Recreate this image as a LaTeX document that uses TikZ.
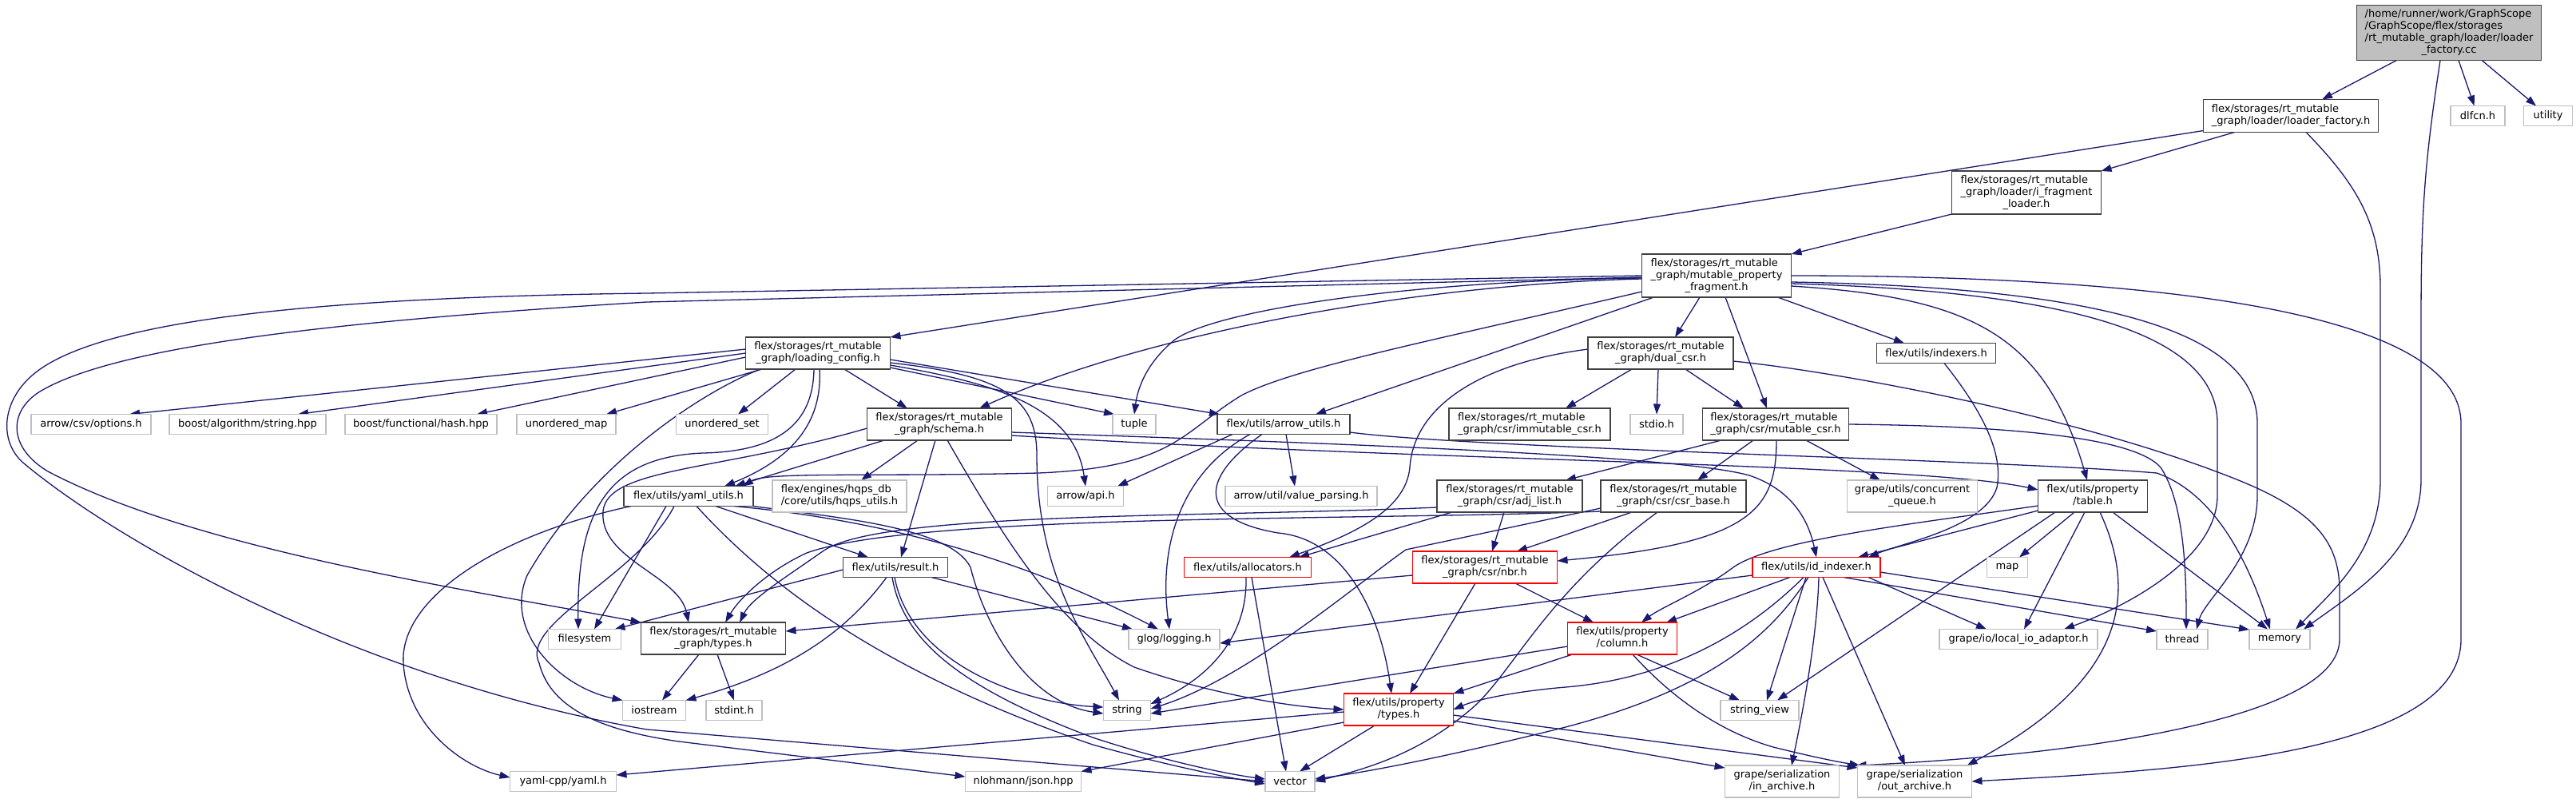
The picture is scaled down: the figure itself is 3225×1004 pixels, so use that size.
\documentclass[tikz,border=0pt]{standalone}
\usepackage{fontspec}
\setmainfont{DejaVu Sans}
\usetikzlibrary{arrows.meta}
\definecolor{edgec}{HTML}{191970}
\definecolor{lgray}{HTML}{BFBFBF}
\definecolor{dgray}{HTML}{404040}
\newcommand\fsz{\fontsize{13}{15}\selectfont}
\newcommand\mlab[2]{\begin{tabular}{@{}l@{}}#1\\\multicolumn{1}{@{}c@{}}{#2}\end{tabular}}
\newcommand\N[7]{\node[#1,minimum width=#5pt,minimum height=#6pt] (#2) at (#3,#4) {#7};}
\pgfdeclarelayer{bglayer}
\pgfdeclarelayer{edgelayer}
\pgfsetlayers{bglayer,edgelayer,main}
\tikzset{
  box/.style={rectangle,inner sep=0pt,outer sep=0pt,font=\fsz,text=black,line width=1.6pt},
  doc/.style={box,draw=dgray,fill=white},
  sys/.style={box,draw=lgray,fill=white},
  trunc/.style={box,draw=red,fill=white},
  rootbox/.style={box,draw=dgray,fill=lgray},
  dep/.style={draw=edgec,line width=1.3pt,-{Triangle[length=13pt,width=9pt]}},
}
\begin{document}
\begin{tikzpicture}[x=1pt,y=-1pt]
\begin{pgfonlayer}{bglayer}
\fill[white] (0,0) rectangle (3225,1004);
\end{pgfonlayer}
\useasboundingbox (0,0) rectangle (3225,1004);
% nodes
\N{rootbox}{root}{3066}{41}{231}{69}{\mlab{/home/runner/work/GraphScope\\/GraphScope/flex/storages\\/rt\_mutable\_graph/loader/loader}{\_factory.cc}}
\N{doc}{lfh}{2868}{145}{219}{41}{\mlab{flex/storages/rt\_mutable}{\_graph/loader/loader\_factory.h}}
\N{sys}{dlfcn}{3102}{145}{68}{25}{dlfcn.h}
\N{sys}{utility}{3190}{145}{61}{25}{utility}
\N{doc}{ifl}{2537}{241}{187}{54}{\mlab{flex/storages/rt\_mutable\\\_graph/loader/i\_fragment}{\_loader.h}}
\N{doc}{mpf}{2149}{345}{187}{54}{\mlab{flex/storages/rt\_mutable\\\_graph/mutable\_property}{\_fragment.h}}
\N{doc}{lc}{1024}{442}{181}{40}{\mlab{flex/storages/rt\_mutable}{\_graph/loading\_config.h}}
\N{doc}{dual}{2079}{442}{182}{40}{\mlab{flex/storages/rt\_mutable}{\_graph/dual\_csr.h}}
\N{doc}{indexers}{2424}{442}{149}{25}{flex/utils/indexers.h}
\N{sys}{csvopt}{114}{531}{150}{25}{arrow/csv/options.h}
\N{sys}{balg}{310}{531}{196}{25}{boost/algorithm/string.hpp}
\N{sys}{bhash}{527}{531}{190}{25}{boost/functional/hash.hpp}
\N{sys}{umap}{709}{531}{124}{25}{unordered\_map}
\N{sys}{uset}{904}{531}{115}{25}{unordered\_set}
\N{doc}{schema}{1176}{531}{181}{40}{\mlab{flex/storages/rt\_mutable}{\_graph/schema.h}}
\N{sys}{tuple}{1420}{531}{54}{25}{tuple}
\N{doc}{arrowutils}{1607}{531}{166}{25}{flex/utils/arrow\_utils.h}
\N{doc}{immcsr}{1915}{531}{202}{40}{\mlab{flex/storages/rt\_mutable}{\_graph/csr/immutable\_csr.h}}
\N{sys}{stdio}{2074}{531}{66}{25}{stdio.h}
\N{doc}{mutcsr}{2223}{531}{183}{40}{\mlab{flex/storages/rt\_mutable}{\_graph/csr/mutable\_csr.h}}
\N{doc}{yaml}{862}{621}{162}{25}{flex/utils/yaml\_utils.h}
\N{sys}{hqps}{1051}{621}{168}{40}{\mlab{flex/engines/hqps\_db}{/core/utils/hqps\_utils.h}}
\N{sys}{arrowapi}{1359}{621}{95}{25}{arrow/api.h}
\N{sys}{valpars}{1629}{621}{190}{25}{arrow/util/value\_parsing.h}
\N{doc}{adjlist}{1890}{621}{182}{40}{\mlab{flex/storages/rt\_mutable}{\_graph/csr/adj\_list.h}}
\N{doc}{csrbase}{2095}{621}{182}{40}{\mlab{flex/storages/rt\_mutable}{\_graph/csr/csr\_base.h}}
\N{sys}{cqueue}{2394}{621}{163}{40}{\mlab{grape/utils/concurrent}{\_queue.h}}
\N{doc}{table}{2620}{621}{137}{40}{\mlab{flex/utils/property}{/table.h}}
\N{doc}{result}{1121}{710}{131}{25}{flex/utils/result.h}
\N{trunc}{alloc}{1562}{710}{159}{25}{flex/utils/allocators.h}
\N{trunc}{nbr}{1859}{710}{181}{40}{\mlab{flex/storages/rt\_mutable}{\_graph/csr/nbr.h}}
\N{trunc}{idindexer}{2274}{710}{160}{25}{flex/utils/id\_indexer.h}
\N{sys}{map}{2513}{710}{51}{25}{map}
\N{sys}{filesystem}{732}{800}{91}{25}{filesystem}
\N{doc}{rtypes}{893}{799}{181}{40}{\mlab{flex/storages/rt\_mutable}{\_graph/types.h}}
\N{sys}{glog}{1470}{800}{114}{25}{glog/logging.h}
\N{trunc}{column}{2031}{799}{137}{40}{\mlab{flex/utils/property}{/column.h}}
\N{sys}{localio}{2527}{800}{198}{25}{grape/io/local\_io\_adaptor.h}
\N{sys}{thread}{2732}{800}{64}{25}{thread}
\N{sys}{memory}{2854}{800}{76}{25}{memory}
\N{sys}{iostream}{819}{889}{79}{25}{iostream}
\N{sys}{stdint}{919}{889}{70}{25}{stdint.h}
\N{sys}{string}{1411}{889}{59}{25}{string}
\N{trunc}{ptypes}{1751}{888}{137}{40}{\mlab{flex/utils/property}{/types.h}}
\N{sys}{strview}{2203}{889}{98}{25}{string\_view}
\N{sys}{yamlcpp}{705}{978}{133}{25}{yaml-cpp/yaml.h}
\N{sys}{json}{1281}{978}{145}{25}{nlohmann/json.hpp}
\N{sys}{vector}{1615}{978}{62}{25}{vector}
\N{sys}{inarch}{2231}{978}{143}{40}{\mlab{grape/serialization}{/in\_archive.h}}
\N{sys}{outarch}{2397}{978}{143}{40}{\mlab{grape/serialization}{/out\_archive.h}}
\begin{pgfonlayer}{edgelayer}
% root
\draw[dep] (root) -- (lfh);
\draw[dep] (root) -- (dlfcn);
\draw[dep] (root) -- (utility);
\draw[dep] ([xshift=-11pt]root.south) .. controls (3036,200) and (3031,260) .. (3031,400) -- (3031,600) .. controls (3031,690) and (2950,740) .. ([xshift=30pt]memory.north);
% loader_factory.h
\draw[dep] (lfh) -- (ifl);
\draw[dep] ([yshift=2pt]lfh.south west) -- (lc.north east);
\draw[dep] ([xshift=19pt]lfh.south) .. controls (2950,230) and (2980,280) .. (2980,360) -- (2980,600) .. controls (2980,690) and (2920,740) .. ([xshift=20pt]memory.north);
% i_fragment_loader
\draw[dep] (ifl.south west) -- (mpf.north east);
% mutable_property_fragment
\draw[dep] ([yshift=-2pt]mpf.west) -- (810,378) .. controls (450,400) and (150,430) .. (50,490) .. controls (10,515) and (10,560) .. (60,590) .. controls (250,690) and (600,740) .. (rtypes.north west);
\draw[dep] (mpf.west) -- (810,367) .. controls (400,372) and (120,400) .. (40,470) .. controls (0,505) and (0,555) .. (30,580) .. controls (150,680) and (450,850) .. (810,913) -- (vector.west);
\draw[dep] ([yshift=-3pt]mpf.west) .. controls (1750,352) and (1520,390) .. (1471,425) .. controls (1440,450) and (1425,480) .. (tuple.north);
\draw[dep] ([yshift=-4pt]mpf.west) .. controls (1800,355) and (1450,410) .. ([xshift=50pt]schema.north);
\draw[dep] ([yshift=-20pt]mpf.west) .. controls (1800,425) and (1620,460) .. (1554,495) .. controls (1480,540) and (1470,585) .. (1300,592) .. controls (1100,597) and (960,590) .. ([xshift=68pt]yaml.north);
\draw[dep] ([xshift=15pt]mpf.south west) -- ([xshift=40pt]arrowutils.north);
\draw[dep] ([xshift=-21pt]mpf.south) -- ([xshift=18pt]dual.north);
\draw[dep] ([xshift=11pt]mpf.south) -- ([xshift=-11pt]mutcsr.north);
\draw[dep] ([xshift=-17pt]mpf.south east) -- ([xshift=-40pt]indexers.north);
\draw[dep] ([yshift=-13pt]mpf.east) .. controls (2470,372) and (2560,420) .. ([xshift=-7pt]table.north);
\draw[dep] ([yshift=-10pt]mpf.east) .. controls (2600,365) and (2776,420) .. (2776,530) -- (2776,620) .. controls (2776,700) and (2660,760) .. ([xshift=57pt]localio.north);
\draw[dep] ([yshift=-8pt]mpf.east) .. controls (2650,360) and (2826,420) .. (2826,530) -- (2826,620) .. controls (2826,700) and (2760,750) .. ([xshift=18pt]thread.north);
\draw[dep] (mpf.east) .. controls (2700,345) and (3081,390) .. (3081,530) -- (3081,800) .. controls (3081,950) and (2700,965) .. (outarch.east);
% loading_config
\draw[dep] ([yshift=5pt]lc.west) -- ([xshift=48pt]csvopt.north);
\draw[dep] (lc.west) -- ([xshift=63pt]balg.north);
\draw[dep] ([yshift=-5pt]lc.west) -- ([xshift=70pt]bhash.north);
\draw[dep] ([xshift=-70pt]lc.south) -- ([xshift=50pt]umap.north);
\draw[dep] ([xshift=-28pt]lc.south) -- ([xshift=20pt]uset.north);
\draw[dep] ([xshift=-5pt]lc.south) .. controls (1018,530) and (975,565) .. (880,567) .. controls (760,572) and (722,640) .. ([xshift=-8pt]filesystem.north);
\draw[dep] ([xshift=-72pt]lc.south) .. controls (880,490) and (740,580) .. (660,720) .. controls (630,790) and (700,860) .. (iostream.north west);
\draw[dep] ([xshift=2pt]lc.south) .. controls (1030,530) and (990,575) .. ([xshift=45pt]yaml.north);
\draw[dep] ([xshift=33pt]lc.south) -- ([xshift=-40pt]schema.north);
\draw[dep] ([yshift=-12pt]lc.east) .. controls (1260,470) and (1298,500) .. (1298,570) .. controls (1298,720) and (1360,800) .. ([xshift=-10pt]string.north);
\draw[dep] ([yshift=-15pt]lc.east) .. controls (1250,480) and (1345,510) .. (arrowapi.north);
\draw[dep] ([yshift=-18pt]lc.east) -- ([xshift=-25pt]tuple.north);
\draw[dep] ([yshift=-8pt]lc.east) -- ([xshift=-80pt]arrowutils.north);
% schema
\draw[dep] ([yshift=-5pt]schema.west) .. controls (900,590) and (760,585) .. (755,640) .. controls (750,700) and (850,720) .. ([xshift=-31pt]rtypes.north);
\draw[dep] ([xshift=-69pt]schema.south) -- ([xshift=58pt]yaml.north);
\draw[dep] ([xshift=-27pt]schema.south) -- ([xshift=27pt]hqps.north);
\draw[dep] ([xshift=-5pt]schema.south) -- ([xshift=7pt]result.north);
\draw[dep] ([xshift=10pt]schema.south) .. controls (1260,680) and (1330,790) .. (1420,835) .. controls (1520,870) and (1620,885) .. (ptypes.west);
\draw[dep] ([yshift=-10pt]schema.east) .. controls (1700,556) and (2100,570) .. (2190,595) .. controls (2250,615) and (2266,660) .. (idindexer.north);
\draw[dep] ([yshift=-14pt]schema.east) .. controls (1800,578) and (2400,580) .. ([yshift=8pt]table.west);
% arrow_utils
\draw[dep] ([xshift=-64pt]arrowutils.south) -- ([xshift=40pt]arrowapi.north);
\draw[dep] ([xshift=-42pt]arrowutils.south) .. controls (1480,590) and (1450,680) .. ([xshift=-6pt]glog.north);
\draw[dep] ([xshift=-27pt]arrowutils.south) .. controls (1500,600) and (1500,650) .. (1600,667) .. controls (1690,675) and (1730,780) .. ([xshift=-9pt]ptypes.north);
\draw[dep] ([xshift=3pt]arrowutils.south) -- ([xshift=-8pt]valpars.north);
\draw[dep] ([yshift=-10pt]arrowutils.east) .. controls (1850,562) and (2500,575) .. (2700,592) .. controls (2780,620) and (2820,720) .. ([xshift=-12pt]memory.north);
% dual_csr
\draw[dep] ([xshift=-36pt]dual.south) -- ([xshift=45pt]immcsr.north);
\draw[dep] ([xshift=-3pt]dual.south) -- (stdio.north);
\draw[dep] ([xshift=31pt]dual.south) -- ([xshift=-40pt]mutcsr.north);
\draw[dep] ([yshift=5pt]dual.west) .. controls (1850,455) and (1770,510) .. (1765,585) .. controls (1760,640) and (1690,670) .. ([xshift=52pt]alloc.north);
\draw[dep] ([yshift=-10pt]dual.east) .. controls (2300,465) and (2600,520) .. (2800,600) .. controls (2900,640) and (2929,680) .. (2929,740) -- (2929,800) .. controls (2929,900) and (2600,945) .. ([xshift=-2pt]outarch.north west);
% mutable_csr
\draw[dep] ([xshift=-68pt]mutcsr.south) -- ([xshift=70pt]adjlist.north);
\draw[dep] ([xshift=-28pt]mutcsr.south) -- ([xshift=30pt]csrbase.north);
\draw[dep] ([xshift=38pt]mutcsr.south) -- ([xshift=-40pt]cqueue.north);
\draw[dep] ([xshift=1pt]mutcsr.south) .. controls (2224,640) and (2190,680) .. ([yshift=8pt]nbr.east);
\draw[dep] (mutcsr.east) .. controls (2500,533) and (2670,545) .. (2705,585) .. controls (2735,630) and (2737,720) .. ([xshift=5pt]thread.north);
% adj_list
\draw[dep] ([yshift=-14pt]adjlist.west) .. controls (1500,648) and (1100,640) .. (1030,690) .. controls (980,725) and (940,750) .. ([xshift=33pt]rtypes.north);
\draw[dep] ([xshift=-72pt]adjlist.south) -- ([xshift=64pt]alloc.north);
\draw[dep] ([xshift=-7pt]adjlist.south) -- ([xshift=9pt]nbr.north);
% csr_base
\draw[dep] ([yshift=-19pt]csrbase.west) .. controls (1700,652) and (1150,642) .. (1010,692) .. controls (960,715) and (925,750) .. ([xshift=15pt]rtypes.north);
\draw[dep] ([xshift=-52pt]csrbase.south) -- ([xshift=40pt]nbr.north);
\draw[dep] ([xshift=-20pt]csrbase.south) .. controls (1940,740) and (1900,830) .. (1850,880) .. controls (1780,945) and (1700,965) .. (vector.east);
\draw[dep] ([yshift=-15pt]csrbase.west) -- (1760,688) .. controls (1700,730) and (1560,850) .. ([yshift=2pt]string.east);
% nbr
\draw[dep] ([yshift=-10pt]nbr.west) -- ([yshift=9pt]rtypes.east);
\draw[dep] ([xshift=-12pt]nbr.south) -- ([xshift=14pt]ptypes.north);
\draw[dep] ([xshift=38pt]nbr.south) -- ([xshift=-36pt]column.north);
% id_indexer
\draw[dep] ([yshift=-10pt]idindexer.west) -- ([yshift=-5pt]glog.east);
\draw[dep] ([xshift=-33pt]idindexer.south) -- ([xshift=55pt]column.north);
\draw[dep] ([xshift=-16pt]idindexer.south) .. controls (2180,800) and (2080,850) .. (1960,860) .. controls (1900,865) and (1850,875) .. (ptypes.east);
\draw[dep] ([xshift=-10pt]idindexer.south) .. controls (2220,790) and (2150,860) .. (1960,910) .. controls (1820,945) and (1720,965) .. ([yshift=3pt]vector.east);
\draw[dep] ([xshift=-13pt]idindexer.south) -- ([xshift=9pt]strview.north);
\draw[dep] ([xshift=3pt]idindexer.south) .. controls (2275,800) and (2255,900) .. ([xshift=12pt]inarch.north);
\draw[dep] ([xshift=8pt]idindexer.south) -- ([xshift=-12pt]outarch.north);
\draw[dep] ([yshift=-6pt]idindexer.east) -- ([yshift=12pt]memory.west);
\draw[dep] ([xshift=34pt]idindexer.south) -- ([yshift=10pt]thread.west);
\draw[dep] ([xshift=65pt]idindexer.south) -- ([xshift=-40pt]localio.north);
% column
\draw[dep] ([xshift=6pt]column.south west) -- (ptypes.north east);
\draw[dep] ([yshift=-10pt]column.west) -- ([yshift=-4pt]string.east);
\draw[dep] ([xshift=18pt]column.south) -- ([xshift=-25pt]strview.north);
\draw[dep] ([xshift=13pt]column.south) .. controls (2090,870) and (2150,915) .. (2220,935) .. controls (2280,950) and (2310,955) .. ([xshift=3pt]outarch.north west);
% property/types
\draw[dep] ([yshift=-3pt]ptypes.west) -- ([yshift=8pt]yamlcpp.east);
\draw[dep] ([yshift=-16pt]ptypes.west) -- (json.north east);
\draw[dep] ([xshift=-30pt]ptypes.south) -- ([xshift=12pt]vector.north);
\draw[dep] ([yshift=-14pt]ptypes.east) -- ([yshift=-3pt]inarch.north west);
\draw[dep] ([yshift=-7pt]ptypes.east) -- ([yshift=-3pt]outarch.north west);
% allocators
\draw[dep] ([xshift=-2pt]alloc.south) .. controls (1562,800) and (1510,850) .. ([yshift=8pt]string.east);
\draw[dep] ([xshift=5pt]alloc.south) -- ([xshift=-5pt]vector.north);
% result
\draw[dep] ([yshift=-3pt]result.west) -- ([xshift=-8pt]filesystem.north east);
\draw[dep] ([xshift=-11pt]result.south) .. controls (1060,790) and (990,840) .. (iostream.north east);
\draw[dep] ([xshift=-1pt]result.south) .. controls (1140,830) and (1280,880) .. ([yshift=4pt]string.west);
\draw[dep] ([xshift=45pt]result.south) -- ([xshift=5pt]glog.north west);
\draw[dep] ([xshift=-4pt]result.south) .. controls (1130,800) and (1200,860) .. (1368,923) .. controls (1450,950) and (1530,968) .. ([yshift=3pt]vector.west);
% yaml_utils
\draw[dep] ([xshift=-28pt]yaml.south) -- ([xshift=12pt]filesystem.north);
\draw[dep] ([xshift=-72pt]yaml.south) .. controls (620,670) and (500,750) .. (505,830) .. controls (510,910) and (580,960) .. ([yshift=5pt]yamlcpp.west);
\draw[dep] ([xshift=-18pt]yaml.south) .. controls (800,720) and (650,780) .. (675,830) .. controls (690,890) and (760,915) .. (850,928) -- ([yshift=6pt]json.west);
\draw[dep] ([xshift=10pt]yaml.south) .. controls (960,730) and (1100,840) .. (1368,932) .. controls (1450,955) and (1530,972) .. ([yshift=-3pt]vector.west);
\draw[dep] ([xshift=34pt]yaml.south) -- ([xshift=-34pt]result.north);
\draw[dep] ([xshift=57pt]yaml.south) .. controls (1150,655) and (1320,720) .. ([xshift=-20pt]glog.north);
\draw[dep] (yaml.south east) .. controls (1050,648) and (1190,660) .. (1215,710) .. controls (1235,790) and (1290,880) .. ([yshift=-4pt]string.west);
% rt types
\draw[dep] ([xshift=-18pt]rtypes.south) -- ([xshift=10pt]iostream.north);
\draw[dep] ([xshift=5pt]rtypes.south) -- (stdint.north);
% table
\draw[dep] ([yshift=-12pt]table.west) .. controls (2400,655) and (2220,675) .. (2170,710) .. controls (2130,740) and (2080,760) .. ([xshift=24pt]column.north);
\draw[dep] ([yshift=-18pt]table.west) -- ([xshift=52pt]idindexer.north);
\draw[dep] ([xshift=-47pt]table.south) -- ([xshift=22pt]strview.north);
\draw[dep] ([xshift=-23pt]table.south) -- ([xshift=15pt]map.north);
\draw[dep] ([xshift=-10pt]table.south) -- ([xshift=7pt]localio.north);
\draw[dep] ([xshift=9pt]table.south) .. controls (2675,740) and (2665,850) .. ([xshift=-6pt]outarch.north east);
\draw[dep] ([xshift=25pt]table.south) -- ([xshift=-15pt]memory.north);
% indexers
\draw[dep] ([xshift=10pt]indexers.south) .. controls (2470,500) and (2510,560) .. (2500,610) .. controls (2485,660) and (2380,680) .. ([xshift=65pt]idindexer.north);
\end{pgfonlayer}
\end{tikzpicture}
\end{document}
